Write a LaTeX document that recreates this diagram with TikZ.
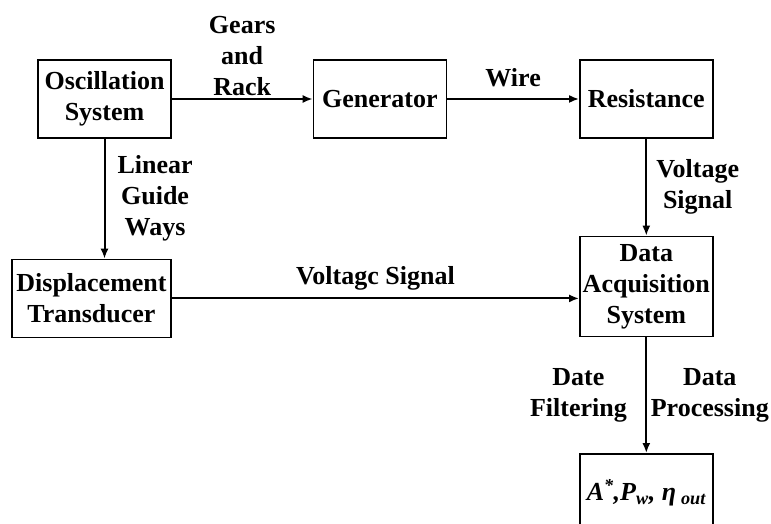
\documentclass[tikz,border=0pt]{standalone}
\usepackage{fontspec}
\setmainfont{Liberation Serif}
\usetikzlibrary{positioning,arrows.meta}
\newcommand{\boxfont}{\fontsize{26}{31}\selectfont\bfseries}

\begin{document}
\begin{tikzpicture}[line width=1.4pt,node distance=141pt,
    box/.style={draw,align=center,minimum width=133pt,minimum height=78pt,inner sep=2pt,font=\boxfont},
    lbl/.style={align=center,inner sep=1pt,font=\boxfont},
    conn/.style={-{Latex[length=10pt,width=8pt]},line width=2pt}]
        \useasboundingbox (0,0) rectangle (771pt,-524pt);
        \node[box] (osc) at (104.5pt,-99pt) {Oscillation\\System};
        \node[box,right=of osc] (gen) {Generator};
        \node[box,right=132pt of gen] (res) {Resistance};
        \node[box,minimum width=159pt,below=120pt of osc.south east,anchor=north east] (disp) {Displacement\\Transducer};
        \node[box,minimum height=100pt,below=97pt of res] (daq) {Data\\Acquisition\\System};
        \node[box,below=116pt of daq] (res2) {\itshape A\textsuperscript{*},P\textsubscript{w}, η\kern5pt\textsubscript{out}};
        \draw[conn] (osc) -- node[lbl,above=1.5pt] {Gears\\and\\Rack} (gen);
        \draw[conn] (gen) -- node[lbl,above=10.5pt] {Wire} (res);
        \draw[conn] (osc.south) -- node[lbl,right=11pt] {Linear\\Guide\\Ways} (osc.south |- disp.north);
        \draw[conn] (res) -- node[lbl,right=8pt] {Voltage\\Signal} (daq);
        \draw[conn] (disp) -- node[lbl,above=6pt] {Voltagc Signal} (disp -| daq.west);
        \draw[conn] (daq) -- node[lbl,left=17.5pt] {Date\\Filtering} node[lbl,right=2.5pt] {Data\\Processing} (res2);
    \end{tikzpicture}
\end{document}
